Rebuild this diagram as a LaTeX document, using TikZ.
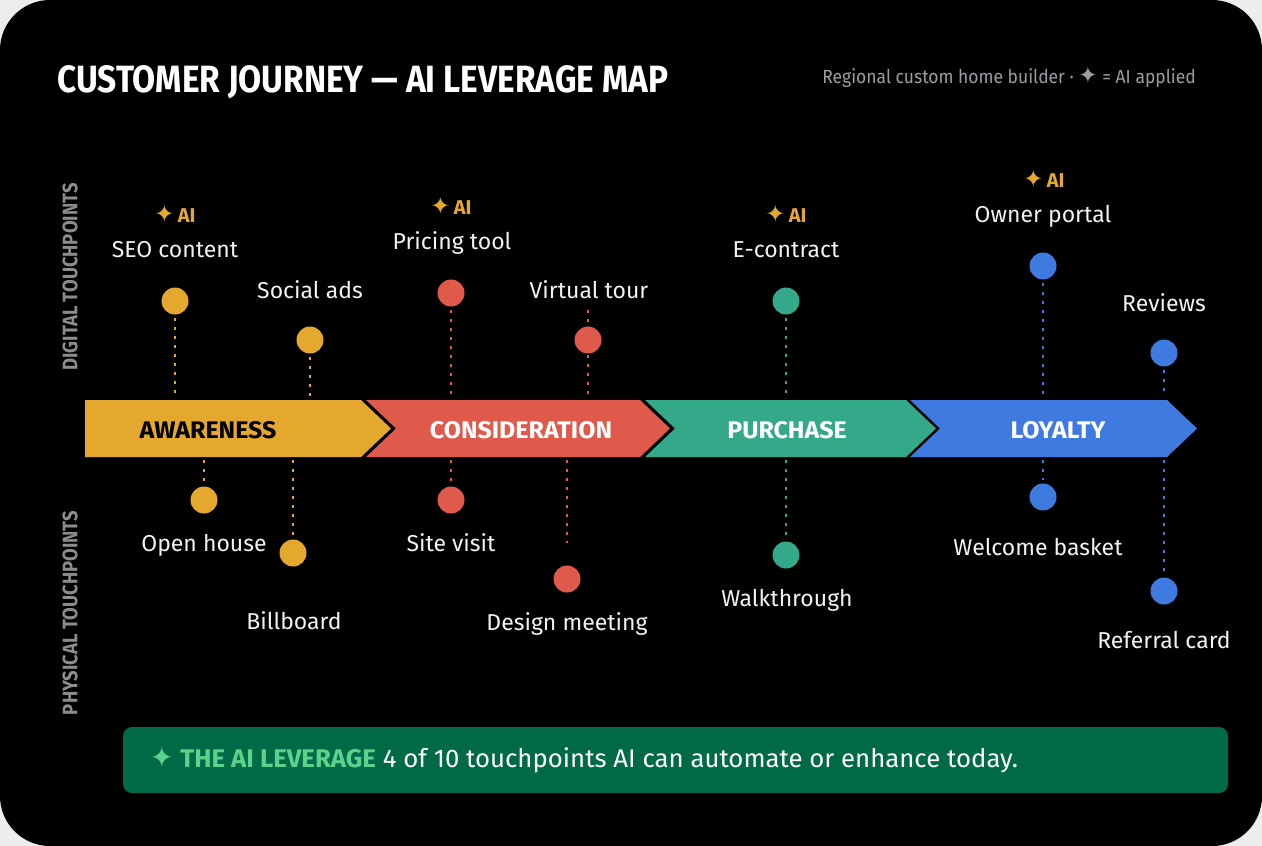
\documentclass[tikz,border=0pt]{standalone}
\usepackage{fontspec}
\setmainfont{Fira Sans}
\newfontfamily\titlefont[FakeStretch=0.88]{Fira Sans}
\newfontfamily\stagefont[FakeStretch=1.04]{Fira Sans}
\newfontfamily\sidefont[FakeStretch=0.88]{Fira Sans}
\newfontfamily\labelfont{Fira Sans}
\newfontfamily\subfont[FakeStretch=0.92]{Fira Sans}
\newfontfamily\bannerfont[FakeStretch=1.01]{Fira Sans}
\newfontfamily\symfont{DejaVu Sans}
\newcommand{\aistar}{{\symfont\fontsize{24}{24}\selectfont ✦}}
\definecolor{bgout}{HTML}{EDEDED}
\definecolor{cgold}{HTML}{E5A82E}
\definecolor{cred}{HTML}{E05A4B}
\definecolor{cteal}{HTML}{34A98A}
\definecolor{cblue}{HTML}{3F7AE0}
\definecolor{lblwhite}{HTML}{F2F2F2}
\definecolor{subgrey}{HTML}{9B9DA4}
\definecolor{sidegrey}{HTML}{8C8C8C}
\definecolor{bannergreen}{HTML}{006A47}
\definecolor{lightgreen}{HTML}{5BD38C}
\begin{document}
\begin{tikzpicture}[x=1pt,y=-1pt,
  tpdot/.style={circle, inner sep=0pt, minimum size=27pt, fill=#1},
  tplink/.style={draw=#1, line width=2pt, dash pattern=on 3pt off 6pt},
  lbl/.style={text=lblwhite, font=\labelfont\fontsize{23}{23}\selectfont, anchor=base, inner sep=0pt},
  aitag/.style={text=cgold, font=\fontsize{20}{20}\selectfont, anchor=base, inner sep=0pt},
  stagelbl/.style={font=\stagefont\bfseries\fontsize{24}{24}\selectfont, anchor=base, inner sep=0pt},
  sidelbl/.style={text=sidegrey, font=\sidefont\bfseries\fontsize{21}{21}\selectfont, rotate=90, inner sep=0pt}
]
\useasboundingbox (0,0) rectangle (1262,846);
\fill[bgout] (0,0) rectangle (1262,846);
\fill[black, rounded corners=50pt] (0,0) rectangle (1262,846);

% title
\node[anchor=base west, inner sep=0pt, text=white, font=\titlefont\bfseries\fontsize{38}{38}\selectfont] (title) at (57,92) {CUSTOMER JOURNEY — AI LEVERAGE MAP};
\node[anchor=base east, inner sep=0pt, text=subgrey, font=\subfont\fontsize{19}{19}\selectfont] (subtitle) at (1196,83) {Regional custom home builder · {\symfont\fontsize{23}{23}\selectfont ✦} = AI applied};

% side labels
\node[sidelbl] (digital) at (70,277) {DIGITAL TOUCHPOINTS};
\node[sidelbl] (physical) at (70,613) {PHYSICAL TOUCHPOINTS};

% chevrons
\fill[cgold] (85,400) -- (361,400) -- (391,428.5) -- (361,457) -- (85,457) -- cycle;
\fill[cred] (366,400) -- (640,400) -- (670,428.5) -- (640,457) -- (366,457) -- (396,428.5) -- cycle;
\fill[cteal] (645,400) -- (906,400) -- (936,428.5) -- (906,457) -- (645,457) -- (675,428.5) -- cycle;
\fill[cblue] (910,400) -- (1167,400) -- (1197,428.5) -- (1167,457) -- (910,457) -- (940,428.5) -- cycle;
\node[stagelbl, text=black] (aware) at (208,438) {AWARENESS};
\node[stagelbl, text=white] (consid) at (521,438) {CONSIDERATION};
\node[stagelbl, text=white] (purch) at (787,438) {PURCHASE};
\node[stagelbl, text=white] (loyal) at (1058,438) {LOYALTY};

% band anchor coordinates
\coordinate (t1) at (175,397); \coordinate (t2) at (310,397);
\coordinate (t3) at (451,397); \coordinate (t4) at (588,397);
\coordinate (t5) at (786,397); \coordinate (t6) at (1043,397);
\coordinate (t7) at (1164,397);
\coordinate (b1) at (204,460); \coordinate (b2) at (293,460);
\coordinate (b3) at (451,460); \coordinate (b4) at (567,460);
\coordinate (b5) at (786,460); \coordinate (b6) at (1043,460);
\coordinate (b7) at (1164,460);
\coordinate (vtop) at (588,310);
\coordinate (dmend) at (567,543);

% dot positions
\coordinate (d1) at (175,301); \coordinate (d2) at (310,340);
\coordinate (d3) at (451,293); \coordinate (d4) at (588,340);
\coordinate (d5) at (786,301); \coordinate (d6) at (1043,266);
\coordinate (d7) at (1164,353);
\coordinate (p1) at (204,500); \coordinate (p2) at (293,553);
\coordinate (p3) at (451,500); \coordinate (p4) at (567,579);
\coordinate (p5) at (786,555); \coordinate (p6) at (1043,497);
\coordinate (p7) at (1164,591);

\draw[tplink=cgold] ([yshift=-17pt]d1) -- (t1);
\draw[tplink=cgold] ([yshift=-17pt]d2) -- (t2);
\draw[tplink=cred] ([yshift=-17pt]d3) -- (t3);
\draw[tplink=cred] (vtop) -- (t4);
\draw[tplink=cteal] ([yshift=-17pt]d5) -- (t5);
\draw[tplink=cblue] ([yshift=-17pt]d6) -- (t6);
\draw[tplink=cblue] ([yshift=-17pt]d7) -- (t7);
\draw[tplink=cgold] (b1) -- ([yshift=17pt]p1);
\draw[tplink=cgold] (b2) -- ([yshift=17pt]p2);
\draw[tplink=cred] (b3) -- ([yshift=17pt]p3);
\draw[tplink=cred] (b4) -- (dmend);
\draw[tplink=cteal] (b5) -- ([yshift=17pt]p5);
\draw[tplink=cblue] (b6) -- ([yshift=17pt]p6);
\draw[tplink=cblue] (b7) -- ([yshift=17pt]p7);

% dots
\node[tpdot=cgold] (seo) at (d1) {};
\node[tpdot=cgold] (social) at (d2) {};
\node[tpdot=cred] (pricing) at (d3) {};
\node[tpdot=cred] (vtour) at (d4) {};
\node[tpdot=cteal] (econ) at (d5) {};
\node[tpdot=cblue] (portal) at (d6) {};
\node[tpdot=cblue] (reviews) at (d7) {};
\node[tpdot=cgold] (openh) at (p1) {};
\node[tpdot=cgold] (billb) at (p2) {};
\node[tpdot=cred] (site) at (p3) {};
\node[tpdot=cred] (design) at (p4) {};
\node[tpdot=cteal] (walk) at (p5) {};
\node[tpdot=cblue] (welcome) at (p6) {};
\node[tpdot=cblue] (referral) at (p7) {};

% labels
\node[lbl] (seol) at (175,257) {SEO content};
\node[lbl] (sociall) at (310,298) {Social ads};
\node[lbl] (pricingl) at (452,249) {Pricing tool};
\node[lbl] (vtourl) at (589,298) {Virtual tour};
\node[lbl] (econl) at (786,257) {E-contract};
\node[lbl] (portall) at (1043,222) {Owner portal};
\node[lbl] (reviewsl) at (1164,311) {Reviews};
\node[lbl] (openhl) at (204,551) {Open house};
\node[lbl] (billbl) at (294,629) {Billboard};
\node[lbl] (sitel) at (451,551) {Site visit};
\node[lbl] (designl) at (567,630) {Design meeting};
\node[lbl] (walkl) at (787,606) {Walkthrough};
\node[lbl] (welcomel) at (1038,555) {Welcome basket};
\node[lbl] (referrall) at (1164,648) {Referral card};

% AI tags
\node[aitag] (ai1) at (175,222) {\aistar\,\textbf{AI}};
\node[aitag] (ai2) at (451,214) {\aistar\,\textbf{AI}};
\node[aitag] (ai3) at (786,222) {\aistar\,\textbf{AI}};
\node[aitag] (ai4) at (1044,187) {\aistar\,\textbf{AI}};

% banner
\fill[bannergreen, rounded corners=9pt] (123,727) rectangle (1228,793);
\node[anchor=base west, inner sep=0pt, text=white, font=\bannerfont\fontsize{25.5}{25.5}\selectfont] (banner) at (150,767)
  {{\color{lightgreen}{\symfont\fontsize{28}{28}\selectfont ✦} \textbf{THE AI LEVERAGE}} 4 of 10 touchpoints AI can automate or enhance today.};
\end{tikzpicture}
\end{document}
